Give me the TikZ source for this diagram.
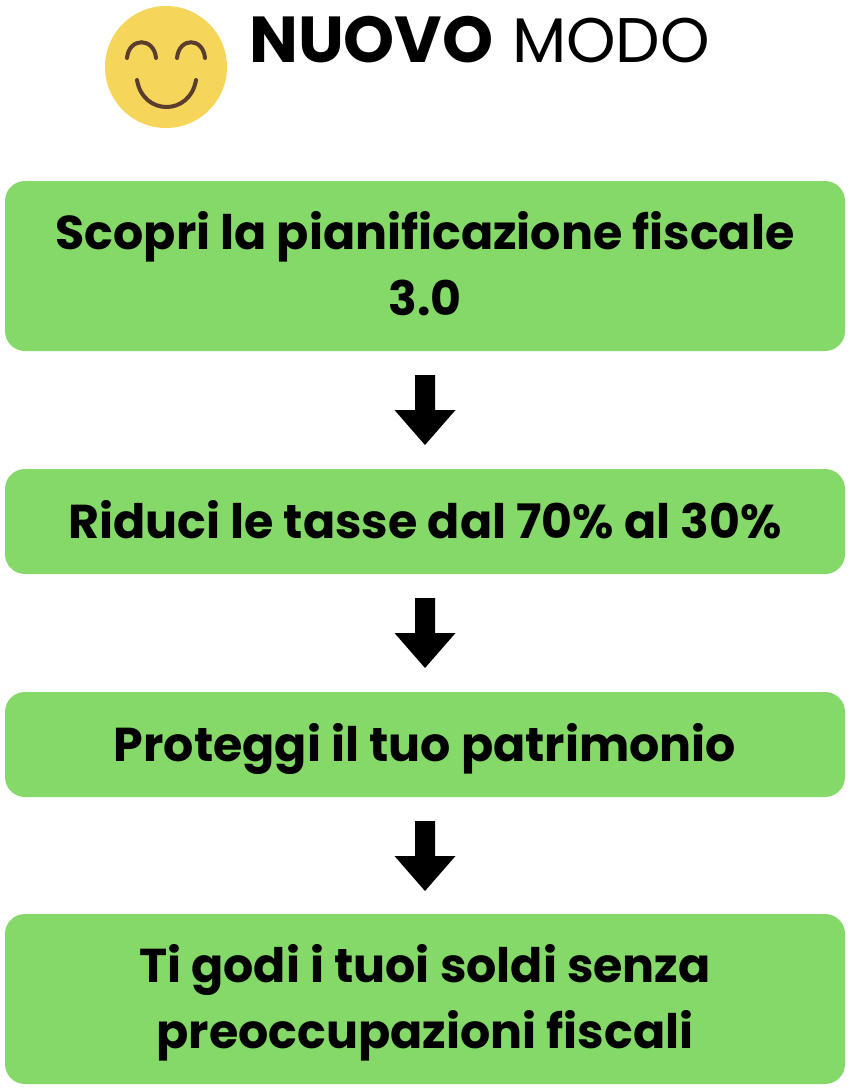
\documentclass[tikz,border=0pt]{standalone}
\usepackage{fontspec}
\setmainfont{Poppins}
\definecolor{boxgreen}{HTML}{84D968}
\definecolor{smile}{HTML}{F5D65A}
\definecolor{mouth}{HTML}{5A3D2E}
\newcommand\boxline[1]{\rule{0pt}{35pt}\smash{#1}\rule[-2pt]{0pt}{2pt}}
\tikzset{
 greenbox/.style={fill=boxgreen,rounded corners=20pt,minimum width=840pt,inner sep=0pt,align=center,font=\fontsize{47.5}{66}\selectfont\bfseries},
 arrowshape/.style={fill=black,draw=none},
 face/.style={mouth,line width=4pt,line cap=round}
}
\begin{document}
\begin{tikzpicture}[x=1pt,y=-1pt]
\useasboundingbox (0,0) rectangle (849,1090);
\fill[white] (0,0) rectangle (849,1090);
\node[greenbox,minimum height=170pt] (a) at (425,266) {\boxline{Scopri la pianificazione fiscale}\\\boxline{3.0}};
\node[greenbox,minimum height=105pt] (b) at (425,521.5) {\boxline{Riduci le tasse dal 70\% al 30\%}};
\node[greenbox,minimum height=105pt] (c) at (425,744.5) {\boxline{Proteggi il tuo patrimonio}};
\node[greenbox,minimum height=170pt] (d) at (425,999) {\boxline{Ti godi i tuoi soldi senza}\\\boxline{preoccupazioni fiscali}};
\foreach \y in {375,598,821}{
 \fill[arrowshape] (415,\y) -- (435,\y) -- (435,\y+35) -- (455.5,\y+35) -- (425,\y+70) -- (394.5,\y+35) -- (415,\y+35) -- cycle;
}
\fill[smile] (166,67) circle (61);
\draw[face] (127,58) .. controls (129,37) and (154,37) .. (156,58);
\draw[face] (177,58) .. controls (179,37) and (203,37) .. (205,58);
\draw[face] (137,80) .. controls (143,116) and (190,116) .. (196,80);
\node[anchor=base west,inner sep=0pt] (t) at (249,62) {\fontsize{65}{70}\selectfont\textbf{NUOVO}\hspace{18.5pt}\fontsize{63}{70}\selectfont MODO};
\end{tikzpicture}
\end{document}
